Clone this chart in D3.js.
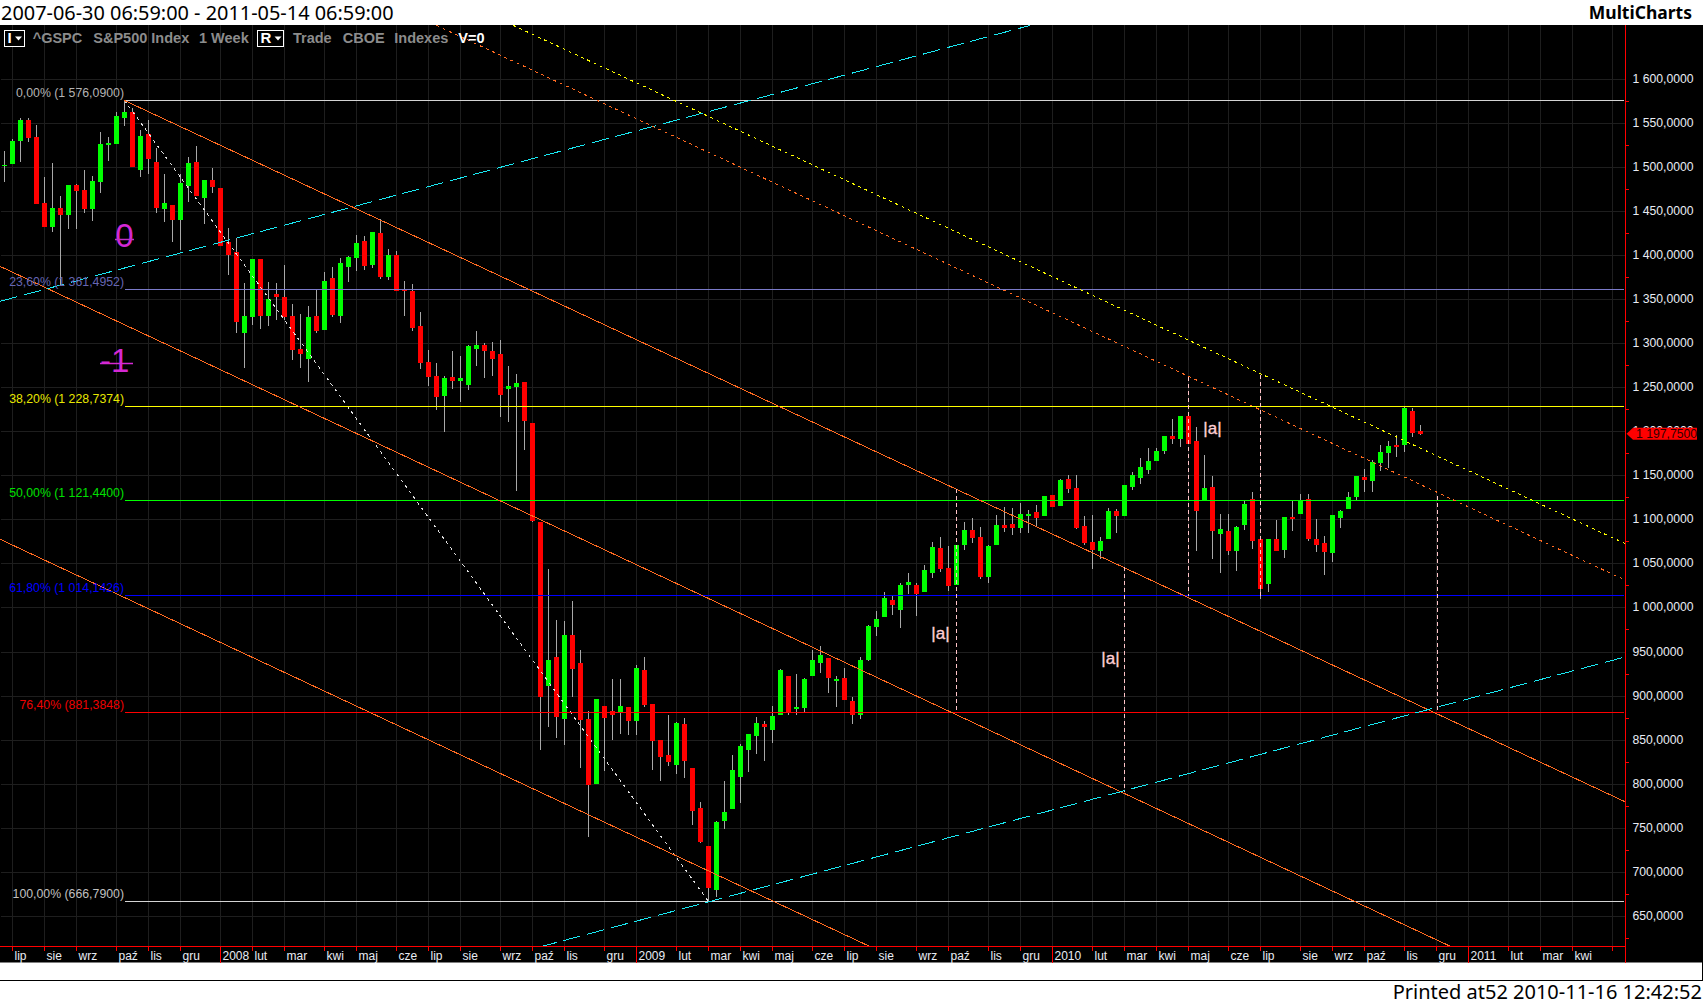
<!DOCTYPE html>
<html><head><meta charset="utf-8">
<script src="https://cdn.jsdelivr.net/npm/d3@7/dist/d3.min.js"></script>
<style>html,body{margin:0;padding:0;background:#fff;overflow:hidden}svg{display:block}text{white-space:pre}</style>
</head><body><div id="chart"></div>
<script>
// weekly candles
const upFlags = [1,1,1,0,0,0,1,0,1,0, 0,1,1,1,1,1,0,1,0,0, 1,0,1,1,0,1,0,0,0,0, 1,1,0,1,0,0,0,0,1,0, 1,0,1,1,1,0,1,0,1,0,
 0,0,0,0,0,1,0,1,1,1, 0,0,0,1,1,0,0,0,1,0, 1,0,0,0,1,0,0,1,0,1, 0,0,0,0,1,0,0,0,0,1, 1,1,1,1,1,0,1,1,0,1,
 1,1,1,0,1,0,0,1,1,1, 1,0,1,1,0,1,1,0,0,1, 1,0,0,1,1,0,0,1,1,0, 1,0,1,0,0,0,0,1,1,0, 1,1,1,1,1,1,0,1,0,0,
 1,0,1,0,1,1,0,0,1,0, 1,0,1,0,0,0,1,1,1,1, 0,1,1,1,0,1,0,0];
const bodyTop = [1502.8,1530.5,1553.5,1553.5,1534.2,1459.3,1453.6,1453.6,1479.7,1479.7,
 1474,1484.3,1526.3,1527.4,1558,1562.6,1562.6,1535.3,1537.6,1505.8,
 1459.3,1457,1482,1504.7,1505.8,1485.4,1485.4,1476.3,1415,1403.7,
 1331,1395.7,1395.7,1350.3,1356,1352.6,1331,1293.6,1329.9,1331,
 1370.8,1374.2,1391.2,1398,1413.9,1416.2,1426.4,1425.2,1400.3,1400.3,
 1360.5,1359.4,1319.7,1278.8,1262.9,1260.7,1261.8,1260.7,1297,1298.1,
 1298.1,1291.3,1287.9,1251.6,1255,1256.1,1209.6,1097.2,940.6,944,
 969,969,937.2,873.6,896.4,888.4,882.7,888.4,887.2,931.6,
 929.3,890.7,849.8,832.8,869.1,868,818,772.6,729.5,756.7,
 768,815.7,842.9,856.6,869.1,868,877,929.3,922.4,887.2,
 919,940.6,946.3,942.9,919,920.2,894.1,940.6,979.2,987.1,
 1011,1008.7,1025.7,1029.1,1025.7,1042.8,1068.9,1067.7,1045,1071.2,
 1088.2,1088.2,1080.2,1070,1093.8,1093.8,1095,1106.3,1106.3,1108.6,
 1126.7,1127.9,1144.9,1146.1,1135.9,1092.7,1074.6,1075.7,1109.8,1109.8,
 1139.3,1150.6,1159.7,1166.5,1177.9,1194.9,1194.9,1217.6,1217.6,1189.1,
 1135.9,1137,1089.3,1087,1091.6,1117.7,1123.3,1078,1078,1078,
 1102.9,1102.9,1122.2,1123.3,1078,1073.5,1105.2,1109.8,1125.6,1149.5,
 1148.4,1165.4,1176.7,1183.5,1184.6,1226.6,1223.2,1200.4];
const bodyBottom = [1501.6,1503.9,1529.7,1533.4,1458.5,1432.1,1432.1,1445.7,1445.7,1472.9,
 1452.5,1452.5,1483.1,1525.1,1526.3,1555.8,1500.2,1496.8,1509.2,1453.6,
 1452.5,1440,1440,1478.6,1467.2,1464.9,1477.4,1410.5,1400.3,1324.2,
 1311.7,1329.9,1331,1331,1352.6,1329.9,1292.5,1287.9,1282.2,1314,
 1315.1,1332.2,1331,1386.7,1396.9,1387.8,1388.9,1375.3,1375.3,1359.4,
 1359.4,1317.4,1277.7,1261.8,1239.1,1240.2,1257.3,1257.3,1252.7,1293.6,
 1291.3,1282.2,1241.4,1248.2,1250.5,1211.9,1098.4,898.6,911.1,875.9,
 873.6,930.4,872.5,798.7,799.9,874.8,878.2,881.6,871.4,871.4,
 889.6,848.7,830.5,824.8,821.4,826,769.2,734,681.8,679.5,
 757.8,771.5,807.8,838.5,854.3,864.6,861.1,878.2,880.5,885,
 886.1,922.4,937.2,920.2,916.8,895.2,878.2,878.2,940.6,978,
 989.4,1003,997.4,1025.7,1015.5,1017.8,1039.3,1043.9,1024.6,1025.7,
 1071.2,1079.1,1034.8,1034.8,1071.2,1090.4,1090.4,1090.4,1104,1101.8,
 1104,1114.3,1115.4,1134.8,1090.4,1073.5,1065.5,1064.4,1078,1104,
 1104,1137,1147.2,1156.3,1166.5,1177.9,1191.5,1191.5,1185.8,1109.8,
 1122.2,1087,1083.6,1064.4,1064.4,1093.8,1075.7,1021.2,1026.8,1064.4,
 1065.5,1100.6,1106.3,1078,1071.2,1063.2,1062.1,1101.8,1112,1125.6,
 1144.9,1143.8,1164.2,1175.6,1182.4,1184.6,1198.2,1197];
const wickHigh = [1518.3,1532.7,1556.1,1556.6,1547.8,1488.8,1504.7,1467.2,1479.7,1481.6,
 1496.8,1490,1539.9,1534.2,1562.6,1576.1,1567.1,1542.1,1553.5,1521.7,
 1492.2,1457,1492.2,1511.5,1524,1485.4,1499,1476.3,1430.9,1419.6,
 1368.5,1395.7,1395.7,1369.6,1368.5,1388.9,1344.7,1333.3,1342.4,1361.7,
 1381,1386.7,1396.9,1399.2,1423,1421.8,1426.4,1441.1,1407.1,1404.8,
 1370.8,1367.4,1335.6,1292.5,1277.7,1262.9,1291.3,1285.6,1298.1,1314,
 1300.4,1301.5,1303.8,1274.3,1265.2,1256.1,1209.6,1097.2,1043.9,986,
 984.9,1007.6,951.9,882.7,896.4,888.4,919,919,887.2,935,
 944,890.7,849.8,878.2,870.3,874.8,818,779.4,729.5,757.8,
 803.3,832.8,845.2,856.6,875.9,871.4,888.4,930.4,922.4,924.7,
 920.2,951.9,956.5,942.9,922.4,931.6,898.6,944,980.3,996.2,
 1017.8,1013.2,1028,1039.3,1028,1048.5,1074.6,1080.2,1070,1071.2,
 1097.2,1101.8,1091.6,1071.2,1105.2,1114.3,1113.2,1118.9,1110.9,1116.6,
 1126.7,1127.9,1146.1,1150.6,1150.6,1104,1105.2,1080.2,1113.2,1112,
 1139.3,1154,1169.9,1181.2,1181.2,1194.9,1214.2,1217.6,1217.6,1204.9,
 1173.3,1149.5,1106.3,1106.3,1092.7,1122.2,1131.3,1078,1078,1099.5,
 1102.9,1122.2,1129,1129,1100.6,1081.3,1105.2,1110.9,1131.3,1149.5,
 1157.4,1167.6,1184.6,1189.1,1196,1228.9,1226.6,1207.3];
const wickLow = [1483.5,1503.9,1506.2,1528.9,1458.5,1432.1,1426.7,1365.1,1429.8,1430.6,
 1447.9,1438.9,1470.6,1507,1526.3,1546.7,1500.2,1488.8,1492.2,1447.9,
 1437.7,1415,1405.9,1460.4,1467.2,1435.5,1470.6,1410.5,1377.6,1311.7,
 1272,1320.8,1316.3,1319.7,1326.5,1326.5,1281.1,1272,1256.1,1311.7,
 1315.1,1329.9,1323.1,1369.6,1382.1,1383.3,1385.5,1373,1371.9,1359.4,
 1331,1314,1270.9,1251.6,1224.4,1199.4,1248.2,1233.4,1247,1274.3,
 1260.7,1262.9,1216.4,1210.7,1132.4,1178.9,1097.2,838.5,864.6,852.1,
 844.1,898.6,818,739.7,799.9,814.6,849.8,856.6,855.5,855.5,
 887.2,815.7,803.3,820.3,811.2,806.7,753.3,732.9,666.8,671.5,
 748.8,771.5,778.3,813.5,834.5,826,846.4,878.2,878.2,878.2,
 881.6,922.4,925.9,903.1,887.2,895.2,868,873.6,939.5,967.8,
 989.4,991.7,976.9,1015.5,990.5,1017.8,1033.6,1040.5,1018.9,1025.7,
 1065.5,1073.5,1032.5,1028,1071.2,1085.9,1082.5,1084.8,1084.8,1092.7,
 1104,1114.3,1115.4,1130.2,1089.3,1071.2,1043.9,1055.3,1078,1084.8,
 1104,1133.5,1140.4,1151.7,1166.5,1174.5,1185.8,1182.4,1185.8,1064.4,
 1122.2,1055.3,1039.3,1059.9,1041.6,1088.2,1066.7,1009.8,1017.8,1064.4,
 1056.5,1087,1106.3,1075.7,1063.2,1037,1052,1090.4,1112,1122.2,
 1131.3,1131.3,1155.1,1158.5,1171,1176.7,1193.7,1195.9];

// time axis: bar index of each month start and its label
const monthBars = [1,5,9,14,18,22,27,31,35,40,44,49,53,57,62,66,70,75,79,84,88,92,96,101,105,109,114,118,123,127,131,136,140,144,148,153,157,162,166,170,175,179,183,188,192,196,201];
const monthNames = ["lip","sie","wrz","paź","lis","gru","2008","lut","mar","kwi","maj","cze","lip","sie","wrz","paź","lis","gru","2009","lut","mar","kwi","maj","cze","lip","sie","wrz","paź","lis","gru","2010","lut","mar","kwi","maj","cze","lip","sie","wrz","paź","lis","gru","2011","lut","mar","kwi",""];
const priceTicks = d3.range(650, 1650, 50);
const minorTicks = d3.range(625, 1625, 50);

// Fibonacci levels
const fibLabels = ["0,00% (1 576,0900)","23,60% (1 361,4952)","38,20% (1 228,7374)","50,00% (1 121,4400)","61,80% (1 014,1426)","76,40% (881,3848)","100,00% (666,7900)"];
const fibPrices = [1576.09,1361.4952,1228.7374,1121.44,1014.1426,881.3848,666.79];
const fibColors = ["#d4d4d4","#7a7ac8","#ffff00","#00ff00","#0000ff","#ff0000","#d4d4d4"];
const fibLabelColors = ["#b4b4b4","#6666b4","#e8e800","#00e000","#0000ff","#ee0000","#c0c0c0"];

// trend lines as [bar, price, bar, price]
const channelLines = [[15,1576.09,202.65,779.7],[-0.56,1387.8,180.9,615.2],[-0.56,1078,108.3,615.2]];
const cyanLines = [[-0.56,1348.1,128.2,1661.3],[66.9,615.2,202.65,944.6]];
const orangeDotted = [54,1661.3,202.65,1031.4];
const yellowDotted = [63.6,1661.3,202.65,1072.8];
const whiteDotted = [15,1576.09,88,666.79];
const pinkVerticals = [[119,1135.5,880.5],[140,1046.2,791.1],[148,1262.1,1013.2],[157,1264.1,1010.6],[179.1,1127.3,883.9]];
const lastPrice = 1197.75;

const W=1703,H=1004, plotTop=25, plotBottom=946.5, plotRight=1625.5;
const x = d3.scaleLinear().domain([0,201]).range([4.5,1612.5]);
const y = d3.scaleLinear().domain([666.79,1576.09]).range([901.5,100.5]);
const svg = d3.select("#chart").append("svg").attr("width",W).attr("height",H).attr("viewBox",`0 0 ${W} ${H}`);
const SANS = "'Liberation Sans',Arial,sans-serif";

svg.append("rect").attr("width",W).attr("height",H).attr("fill","#fff");
svg.append("rect").attr("x",0).attr("y",plotTop).attr("width",W).attr("height",962.5-plotTop).attr("fill","#000");
svg.append("defs").append("clipPath").attr("id","plot").append("rect").attr("x",0).attr("y",plotTop).attr("width",plotRight).attr("height",plotBottom-plotTop);

// grid
const grid = svg.append("g").attr("stroke","#1e1e1e").attr("shape-rendering","crispEdges");
grid.selectAll(".gv").data(monthBars).join("line").attr("x1",d=>x(d)).attr("x2",d=>x(d)).attr("y1",plotTop).attr("y2",plotBottom);
grid.selectAll(".gh").data(priceTicks).join("line").attr("x1",1).attr("x2",plotRight).attr("y1",d=>Math.floor(y(d))+.5).attr("y2",d=>Math.floor(y(d))+.5);

const plot = svg.append("g").attr("clip-path","url(#plot)");
// candles
const bars = d3.range(bodyTop.length);
plot.append("g").attr("stroke","#a8a8a8").attr("shape-rendering","crispEdges").selectAll("line").data(bars).join("line")
  .attr("x1",i=>x(i)).attr("x2",i=>x(i)).attr("y1",i=>Math.round(y(wickHigh[i]))).attr("y2",i=>Math.round(y(wickLow[i])));
plot.append("g").attr("shape-rendering","crispEdges").selectAll("rect").data(bars).join("rect")
  .attr("x",i=>x(i)-2.5).attr("width",5)
  .attr("y",i=>Math.round(y(bodyTop[i])))
  .attr("height",i=>Math.max(1,Math.round(y(bodyBottom[i]))-Math.round(y(bodyTop[i]))))
  .attr("fill",i=>upFlags[i]?"#00ff00":"#ff0000");

function seg(g,d,color,dash){
  const l=g.append("line").attr("x1",x(d[0])).attr("y1",y(d[1])).attr("x2",x(d[2])).attr("y2",y(d[3]))
    .attr("stroke",color).attr("stroke-width",1).attr("shape-rendering","crispEdges");
  if(dash) l.attr("stroke-dasharray",dash);
}
seg(plot,whiteDotted,"#e0e0e0","3 4");
// fib levels
fibPrices.forEach((p,i)=>{
  const py=Math.floor(y(p))+.5;
  plot.append("line").attr("x1",x(15)).attr("x2",1623.5).attr("y1",py).attr("y2",py).attr("stroke",fibColors[i]).attr("shape-rendering","crispEdges");
  svg.append("text").attr("x",124).attr("y",py-3.5).attr("text-anchor","end").attr("fill",fibLabelColors[i])
    .attr("font-family",SANS).attr("font-size",12.3).text(fibLabels[i]);
});
channelLines.forEach(d=>seg(plot,d,"#ff6a20"));
cyanLines.forEach(d=>seg(plot,d,"#19e8f2","17.5 7"));
seg(plot,orangeDotted,"#ff6a20","3 3.8");
seg(plot,yellowDotted,"#ffff00","3 3.8");
pinkVerticals.forEach(d=>seg(plot,[d[0],d[1],d[0],d[2]],"#ffc4c8","4 3"));

// annotations
[[940.5,639],[1110.5,664],[1212.5,434]].forEach(p=>{
  svg.append("text").attr("x",p[0]).attr("y",p[1]).attr("text-anchor","middle").attr("fill","#ffd0d4")
    .attr("stroke","#ffd0d4").attr("stroke-width",.35)
    .attr("font-family",SANS).attr("font-size",17).text("|a|");
});
svg.append("text").attr("x",124.5).attr("y",247).attr("text-anchor","middle").attr("fill","#d428d4")
  .attr("font-family",SANS).attr("font-size",33).text("0");
svg.append("line").attr("x1",115).attr("x2",134).attr("y1",239.5).attr("y2",239.5).attr("stroke","#c030c8").attr("stroke-width",1.5);
svg.append("line").attr("x1",100).attr("x2",133).attr("y1",363.5).attr("y2",363.5).attr("stroke","#d428d4").attr("stroke-width",1.5);
svg.append("text").attr("x",100).attr("y",372).attr("fill","#d428d4")
  .attr("font-family",SANS).attr("font-size",33).text("-1");

// axes
const axis = svg.append("g").attr("stroke","#ff0000").attr("shape-rendering","crispEdges");
axis.append("line").attr("x1",0).attr("x2",plotRight).attr("y1",plotBottom).attr("y2",plotBottom);
axis.append("line").attr("x1",plotRight).attr("x2",plotRight).attr("y1",plotTop).attr("y2",962.5);
axis.selectAll(".mt").data(minorTicks).join("line").attr("x1",plotRight).attr("x2",plotRight+3).attr("y1",d=>Math.floor(y(d))+.5).attr("y2",d=>Math.floor(y(d))+.5);
axis.selectAll(".xt").data(monthBars).join("line").attr("x1",d=>x(d)).attr("x2",d=>x(d)).attr("y1",plotBottom)
  .attr("y2",(d,i)=>/^20/.test(monthNames[i])?962.5:plotBottom+4);

const fmtPrice = p => (p>=1000 ? Math.floor(p/1000)+" "+String(p%1000).padStart(3,"0") : String(p))+",0000";
svg.append("g").selectAll("text").data(priceTicks.filter(d=>d<=1600)).join("text")
  .attr("x",1632.5).attr("y",d=>y(d)+3.5).attr("fill","#e8ecf4").attr("font-family",SANS).attr("font-size",12.2).text(fmtPrice);
svg.append("g").selectAll("text").data(monthBars).join("text")
  .attr("x",d=>x(d)+2).attr("y",959.5).attr("fill","#e8ecf4").attr("font-family",SANS).attr("font-size",12).text((d,i)=>monthNames[i]);

// last price flag
const ly=y(lastPrice);
svg.append("path").attr("d",`M1626.5 ${ly} L1633 ${ly-6} L1697 ${ly-6} L1697 ${ly+6} L1633 ${ly+6} Z`).attr("fill","#ff0000");
svg.append("text").attr("x",1636).attr("y",ly+4.5).attr("fill","#300000").attr("font-family",SANS).attr("font-size",12.2).text("1 197,7500");

// header
svg.append("text").attr("x",1).attr("y",20).attr("fill","#000").attr("font-family","'Noto Sans',sans-serif").attr("font-size",19.9).text("2007-06-30 06:59:00 - 2011-05-14 06:59:00");
svg.append("text").attr("x",1692).attr("y",19).attr("text-anchor","end").attr("fill","#000").attr("font-family","'Noto Sans',sans-serif").attr("font-weight","700").attr("font-size",17.5).text("MultiCharts");
const legendWords = [["^GSPC",32.7],["S&P500 Index",93.3],["1 Week",199],["Trade",293],["CBOE",342.7],["Indexes",394.3]];
svg.append("g").selectAll("text").data(legendWords).join("text").attr("x",d=>d[1]).attr("y",43).attr("fill","#8c8c8c")
  .attr("font-family",SANS).attr("font-weight","700").attr("font-size",14.5).text(d=>d[0]);
svg.append("text").attr("x",458.3).attr("y",43).attr("fill","#fff").attr("font-family",SANS).attr("font-weight","700").attr("font-size",14.5).text("V=0");
[[4.5,"I",19.5],[257.5,"R",26]].forEach(b=>{
  svg.append("rect").attr("x",b[0]).attr("y",30.5).attr("width",b[2]).attr("height",16).attr("fill","#000").attr("stroke","#fff").attr("shape-rendering","crispEdges");
  svg.append("text").attr("x",b[0]+3).attr("y",43).attr("fill","#fff").attr("font-family",SANS).attr("font-weight","700").attr("font-size",15).text(b[1]);
  const tx=b[0]+b[2]-9;
  svg.append("path").attr("d",`M${tx} 36.5 h7 l-3.5 4 z`).attr("fill","#fff");
});

// bottom band
svg.append("line").attr("x1",0).attr("x2",W).attr("y1",980.5).attr("y2",980.5).attr("stroke","#000").attr("shape-rendering","crispEdges");
svg.append("line").attr("x1",1702.5).attr("x2",1702.5).attr("y1",962).attr("y2",981).attr("stroke","#000").attr("shape-rendering","crispEdges");
svg.append("text").attr("x",1702).attr("y",999).attr("text-anchor","end").attr("fill","#000").attr("font-family","'Noto Sans',sans-serif").attr("font-size",20).text("Printed at52 2010-11-16 12:42:52");
</script></body></html>
